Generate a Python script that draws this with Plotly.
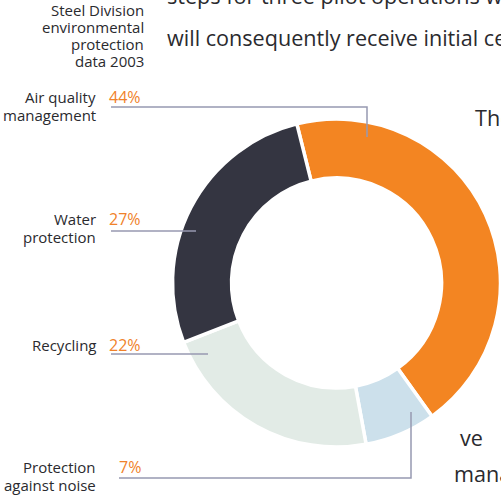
import plotly.graph_objects as go

W, H = 501, 498

categories = ["Air quality management", "Protection against noise", "Recycling", "Water protection"]
values = [44, 7, 22, 27]
colors = ["#F38522", "#CCE0EB", "#E2EBE6", "#343541"]
label_lines = {
    "Air quality management": ["Air quality", "management"],
    "Protection against noise": ["Protection", "against noise"],
    "Recycling": ["Recycling"],
    "Water protection": ["Water", "protection"],
}
title_lines = ["Steel Division", "environmental", "protection", "data 2003"]
body_lines = [
    ("steps for three pilot operations will be", 165, -4),
    ("will consequently receive initial certification", 165, 37),
    ("The", 473, 117),
    ("ve", 458, 437),
    ("mana", 452, 473),
]

FONT = "Open Sans"
TXT = "#2A2A2E"
ORANGE = "#F0822A"
LINE = "#9799B1"


def px(x):
    return x / W


def py(y):
    return 1 - y / H


cx, cy, R = 336.5, 283, 164
fig = go.Figure(go.Pie(
    labels=categories, values=values, sort=False, direction="clockwise",
    rotation=-14, hole=0.64,
    marker=dict(colors=colors, line=dict(color="white", width=3.5)),
    textinfo="none", hoverinfo="label+percent", showlegend=False,
    domain=dict(x=[px(cx - R), min(1, px(cx + R))], y=[py(cy + R), py(cy - R)]),
))

ann = []
label_pos = {
    "Air quality management": (97, [(111, 107), (367, 107), (367, 137)]),
    "Water protection": (219, [(111, 231), (196, 231)]),
    "Recycling": (345, [(111, 354), (208, 354)]),
    "Protection against noise": (467, [(119, 478), (411, 478), (411, 412)]),
}
shapes = []
for cat, val in zip(categories, values):
    y0, pts = label_pos[cat]
    for i, line in enumerate(label_lines[cat]):
        ann.append(dict(text=line, x=px(98), y=py(y0 + i * 18), xref="paper", yref="paper",
                        xanchor="right", yanchor="middle", showarrow=False,
                        font=dict(family=FONT, size=15, color=TXT)))
    ann.append(dict(text=f"{val}%", x=px(143), y=py(y0), xref="paper", yref="paper",
                    xanchor="right", yanchor="middle", showarrow=False,
                    font=dict(family=FONT, size=16, color=ORANGE)))
    path = "M " + " L ".join(f"{px(x)},{py(y)}" for x, y in pts)
    shapes.append(dict(type="path", path=path, xref="paper", yref="paper",
                       line=dict(color=LINE, width=1.5)))

for i, line in enumerate(title_lines):
    ann.append(dict(text=line, x=px(146), y=py(10 + i * 17), xref="paper", yref="paper",
                    xanchor="right", yanchor="middle", showarrow=False,
                    font=dict(family=FONT, size=15, color=TXT)))

for text, x, y in body_lines:
    ann.append(dict(text=text, x=px(x), y=py(y), xref="paper", yref="paper",
                    xanchor="left", yanchor="middle", showarrow=False,
                    font=dict(family=FONT, size=21.6, color=TXT)))

fig.update_layout(width=W, height=H, margin=dict(l=0, r=0, t=0, b=0),
                  paper_bgcolor="white", plot_bgcolor="white",
                  annotations=ann, shapes=shapes)
fig.write_html("out.html", config={"displayModeBar": False},
               post_script="document.body.style.margin='0';document.body.style.overflow='hidden';")
